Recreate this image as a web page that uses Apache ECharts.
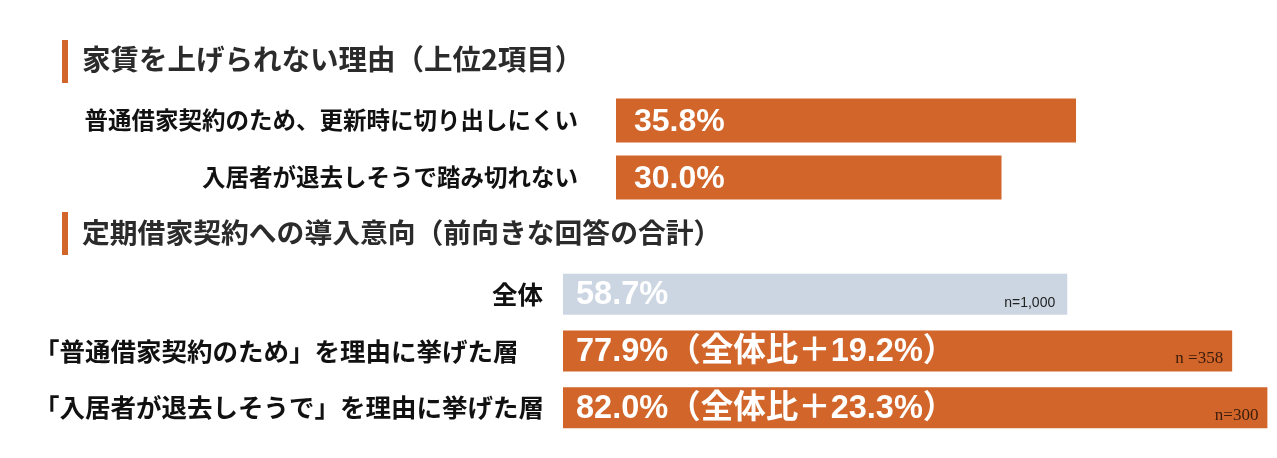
<!DOCTYPE html>
<html>
<head>
<meta charset="utf-8">
<script src="https://cdn.jsdelivr.net/npm/echarts@6/dist/echarts.min.js"></script>
<style>
  html, body { margin: 0; padding: 0; background: #fff; }
  #chartContainer { width: 1277px; height: 458px; }
</style>
</head>
<body>
<div id="chartContainer"></div>
<script>
// top block: reasons for not raising rent
var TOP_TITLE = "家賃を上げられない理由（上位2項目）";
var topCategories = ["普通借家契約のため、更新時に切り出しにくい", "入居者が退去しそうで踏み切れない"];
var topValues = [35.8, 30.0];

// bottom block: intention to introduce fixed-term lease
var BOTTOM_TITLE = "定期借家契約への導入意向（前向きな回答の合計）";
var bottomCategories = ["全体", "「普通借家契約のため」を理由に挙げた層", "「入居者が退去しそうで」を理由に挙げた層"];
var bottomValues = [58.7, 77.9, 82.0];
var bottomDiff = [null, 19.2, 23.3];
var bottomN = ["n=1,000", "n =358", "n=300"];

var ORANGE = "#D1652A";
var GREY = "#CCD6E3";

var CHART;

window.onload = (_) => {
  CHART = echarts.init(document.getElementById("chartContainer"), null, { renderer: "canvas" });

  var bottomBarData = bottomValues.map((v, i) => ({
    value: v,
    itemStyle: { color: i == 0 ? GREY : ORANGE },
  }));
  var nLabelData = bottomValues.map((v, i) => ({
    value: v,
    label: i == 0
      ? { fontFamily: "Liberation Sans", fontSize: 14, color: "#222", offset: [-7, 0] }
      : { fontFamily: "Liberation Serif", fontSize: 17, color: "#3a1c0c", offset: [-4, 1] },
  }));

  var option = {
    animation: false,
    title: [
      {
        text: TOP_TITLE,
        left: 82,
        top: 45,
        padding: 0,
        textStyle: { fontFamily: "Noto Sans CJK JP", fontSize: 28.5, fontWeight: "bold", color: "#2b2b2b" },
      },
      {
        text: BOTTOM_TITLE,
        left: 82,
        top: 219,
        padding: 0,
        textStyle: { fontFamily: "Noto Sans CJK JP", fontSize: 27.8, fontWeight: "bold", color: "#2b2b2b" },
      },
    ],
    graphic: [
      { type: "rect", shape: { x: 62, y: 40, width: 6, height: 43 }, style: { fill: ORANGE } },
      { type: "rect", shape: { x: 62, y: 212, width: 6, height: 43 }, style: { fill: ORANGE } },
    ],
    grid: [
      { id: "top", left: 616, width: 514, top: 92, height: 114, outerBoundsMode: "none" },
      { id: "bottom", left: 563, width: 859, top: 266, height: 170, outerBoundsMode: "none" },
    ],
    xAxis: [
      { type: "value", gridIndex: 0, min: 0, max: 40, show: false },
      { type: "value", gridIndex: 1, min: 0, max: 100, show: false },
    ],
    yAxis: [
      {
        type: "category",
        gridIndex: 0,
        inverse: true,
        data: topCategories,
        axisLine: { show: false },
        axisTick: { show: false },
        axisLabel: {
          margin: 38,
          fontFamily: "Noto Sans CJK JP",
          fontSize: 23.5,
          fontWeight: "bold",
          color: "#111",
        },
      },
      {
        type: "category",
        gridIndex: 1,
        inverse: true,
        data: bottomCategories,
        axisLine: { show: false },
        axisTick: { show: false },
        axisLabel: {
          margin: 20,
          fontFamily: "Noto Sans CJK JP",
          fontSize: 25.5,
          fontWeight: "bold",
          color: "#111",
          formatter: (v) => (v == bottomCategories[0] ? v : "{l|" + v + "}"),
          rich: {
            l: {
              width: 509,
              align: "left",
              fontFamily: "Noto Sans CJK JP",
              fontSize: 25.5,
              fontWeight: "bold",
              color: "#111",
            },
          },
        },
      },
    ],
    series: [
      {
        name: "topBars",
        type: "bar",
        xAxisIndex: 0,
        yAxisIndex: 0,
        barWidth: 44,
        itemStyle: { color: ORANGE },
        label: {
          show: true,
          position: "insideLeft",
          distance: 18,
          offset: [0, 2],
          fontFamily: "Liberation Sans",
          fontSize: 32,
          fontWeight: "bold",
          color: "#fff",
          formatter: (p) => p.value.toFixed(1) + "%",
        },
        data: topValues,
      },
      {
        name: "bottomBars",
        type: "bar",
        xAxisIndex: 1,
        yAxisIndex: 1,
        barWidth: 41,
        label: {
          show: true,
          position: "insideLeft",
          distance: 13,
          offset: [0, 1],
          fontFamily: "Liberation Sans, Noto Sans CJK JP",
          fontSize: 32.5,
          fontWeight: "bold",
          color: "#fff",
          formatter: (p) => {
            let txt = p.value.toFixed(1) + "%";
            if (bottomDiff[p.dataIndex] != null) {
              txt += "（全体比＋" + bottomDiff[p.dataIndex].toFixed(1) + "%）";
            }
            return txt;
          },
        },
        data: bottomBarData,
      },
      {
        name: "bottomN",
        type: "bar",
        xAxisIndex: 1,
        yAxisIndex: 1,
        barWidth: 41,
        barGap: "-100%",
        silent: true,
        itemStyle: { color: "rgba(0,0,0,0)" },
        label: {
          show: true,
          position: "insideBottomRight",
          distance: 5,
          formatter: (p) => bottomN[p.dataIndex],
        },
        data: nLabelData,
      },
    ],
  };
  CHART.setOption(option);
};
</script>
</body>
</html>
